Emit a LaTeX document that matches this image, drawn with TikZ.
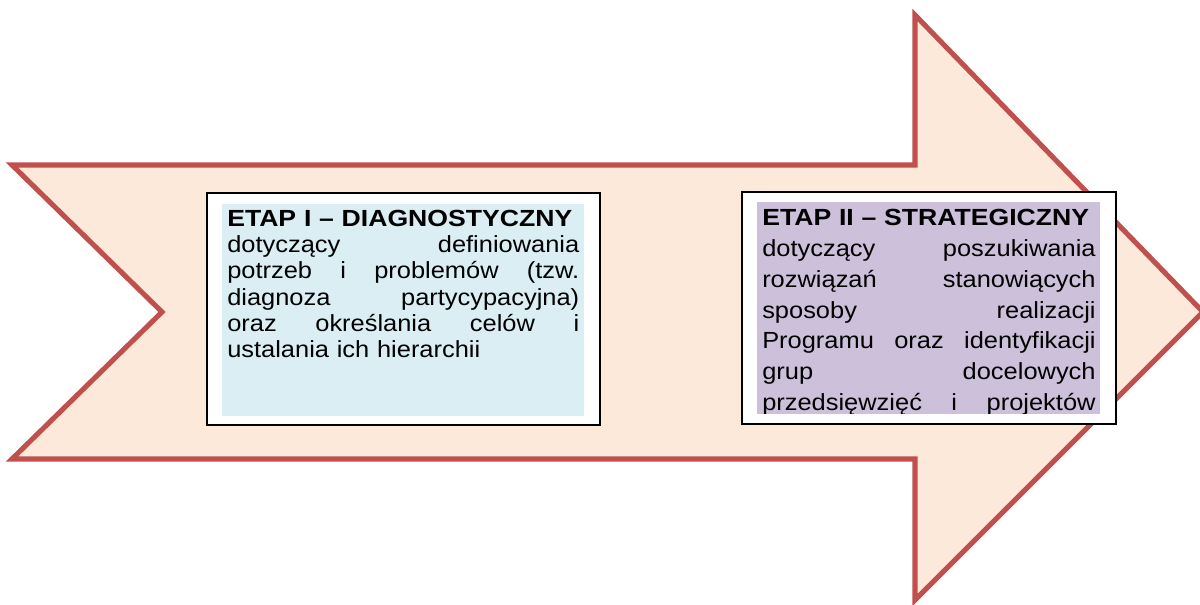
\documentclass[tikz,border=0pt]{standalone}
\usepackage{fontspec}
\setmainfont{Liberation Sans}[FakeStretch=1.09, BoldFeatures={FakeStretch=1.14}]

\definecolor{arrowfill}{HTML}{FDE9D9}
\definecolor{arrowline}{HTML}{C0504D}
\definecolor{diagfill}{HTML}{DAEEF3}
\definecolor{stratfill}{HTML}{CCC0DA}

\newcommand{\diagline}[1]{\makebox[264pt][s]{\spaceskip=0pt\relax #1}}
\newcommand{\stratline}[1]{\makebox[250pt][s]{\spaceskip=0pt\relax #1}}

\tikzset{
  stagebox/.style={draw=black, line width=2.2pt, fill=white},
  stagetext/.style={anchor=base west, inner sep=0pt, align=left}
}

\begin{document}
\begin{tikzpicture}[x=0.75pt,y=-0.75pt]
    \useasboundingbox (0,0) rectangle (1200,605);
    % the big arrow
    \draw [line width=3.8pt, draw=arrowline, fill=arrowfill, line join=miter]
      (12,165) -- (915,165) -- (915,15) -- (1203,312) -- (915,600)
      -- (915,459) -- (12,459) -- (162,312) -- cycle;
    % stage I
    \draw [stagebox] (207,193) rectangle (600,425);
    \fill [diagfill] (222,204) rectangle (584,416);
    \node (diag) [stagetext, text width=264pt,
      font=\fontsize{17.5pt}{19.6pt}\selectfont] at (227,226.7)
      {{\bfseries ETAP I – DIAGNOSTYCZNY}\\
       \diagline{dotyczący definiowania}\\
       \diagline{potrzeb i problemów (tzw.}\\
       \diagline{diagnoza partycypacyjna)}\\
       \diagline{oraz określania celów i}\\
       ustalania ich hierarchii};
    % stage II
    \draw [stagebox] (742,192) rectangle (1116,424);
    \fill [stratfill] (757,202) rectangle (1100,414);
    \begin{scope}
      \clip (757,202) rectangle (1100,414);
      \node (strat) [stagetext, text width=250pt,
        font=\fontsize{17.5pt}{23.1pt}\selectfont] at (762,225.7)
        {{\bfseries ETAP II – STRATEGICZNY}\\
         \stratline{dotyczący poszukiwania}\\
         \stratline{rozwiązań stanowiących}\\
         \stratline{sposoby realizacji}\\
         \stratline{Programu oraz identyfikacji}\\
         \stratline{grup docelowych}\\
         \stratline{przedsięwzięć i projektów}};
    \end{scope}
\end{tikzpicture}
\end{document}
